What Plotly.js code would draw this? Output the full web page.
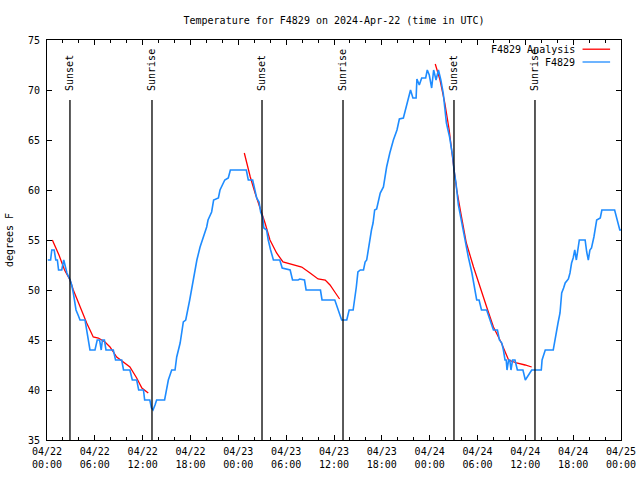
<!DOCTYPE html>
<html><head><meta charset="utf-8">
<script src="https://cdn.plot.ly/plotly-3.0.1.min.js"></script>
<style>html,body{margin:0;padding:0;background:#fff}#chart{width:640px;height:480px}</style>
</head><body><div id="chart"></div>
<script>
// hours since 2024-04-22 00:00 UTC
const obsHours = [0.1,0.45,0.6,0.9,1.1,1.3,1.45,1.85,2.1,2.25,2.5,2.9,3.1,3.3,3.5,3.64,3.9,4.14,4.77,5.0,5.18,5.39,6.02,6.3,6.6,6.8,6.95,7.2,7.4,8.32,8.6,9.37,9.6,10.4,10.7,11.25,11.5,12.1,12.25,12.9,13.1,13.3,13.55,13.75,14.75,14.95,15.22,15.64,16.06,16.27,16.7,17.1,17.4,17.9,18.36,18.8,19.2,19.6,20.03,20.2,20.65,20.9,21.5,21.7,22.1,22.3,22.74,23.0,25.0,25.25,25.8,26.1,26.3,26.6,26.8,27.05,27.2,27.55,27.75,28.05,28.4,29.2,29.5,30.5,30.8,31.5,31.7,32.3,32.5,34.3,34.5,36.1,36.5,36.96,37.6,37.9,38.4,38.6,38.8,39.0,39.3,39.7,39.9,40.1,40.4,40.7,40.9,41.1,41.35,41.8,42.2,42.6,43.0,43.45,43.9,44.2,44.7,45.0,45.3,45.6,45.9,46.3,46.4,46.7,47.0,47.5,47.7,47.95,48.25,48.5,48.8,49.1,49.4,49.7,49.9,50.1,50.5,50.9,51.05,51.3,51.6,52.0,52.4,52.85,53.3,53.7,53.9,54.2,54.5,55.15,55.5,55.7,56.0,56.5,56.75,57.05,57.25,57.45,57.6,57.7,57.9,58.05,58.2,58.4,58.7,59.0,59.7,60.0,60.8,62.0,62.1,62.5,63.5,63.7,64.1,64.35,64.56,64.8,65.0,65.4,65.6,65.8,66.0,66.2,66.4,66.77,67.5,67.7,67.9,68.1,68.3,68.6,68.95,69.4,69.6,71.2,71.45,71.85,72.0];
const obsTemps = [53,53,54,54,53,53,52,52,53,52.5,51.7,51,50.5,49.7,48.5,48,47.5,47,47,46,45.3,44,44,45,45,44,45,45,44,44,43,43,42,42,41,41,40,40,39,39,38.2,38,38.5,39,39,40,41,42,42,43.3,44.7,46.8,47,49,51,53,54.3,55.2,56.3,57,57.8,59,59.2,60,60.7,61,61.2,62,62,61,61,60,59.2,58.8,57.8,57.3,56.2,56,55,54,53,53,52.2,52,51,51,51.1,51,50,50,49,49,48,47,47,48,48,49,50.3,51.8,52,52,52.8,53,54.7,56,56.7,58,58.1,59.7,60.3,62.3,63.7,65,66,67.1,67.2,68.2,69.2,70,69.2,69.2,71.1,70.5,71.2,71.2,72,71.5,70.2,72,71,72,71,69.7,68.2,66.7,65.3,63.3,62,60.7,58.5,56.7,55.3,53.3,51.7,50,49,49,48,48,47,46.7,46,46,45,44.7,44,43,43,42,43,43,42,43,43,42,42,41,42,42,43,44,44,45,46.7,47.7,49.7,50.2,50.7,51.1,51.7,52.7,53.2,54,53,55,55,53.8,53,54,54.2,55.3,57,57.2,58,58,57.3,56,56];

const anaHours = [0.67,1.5,2.2,2.89,3.3,4.14,4.98,5.8,6.44,7.28,7.9,8.74,9.6,10.4,11.25,11.9,12.7,null,
  24.75,25.5,26.1,26.7,27.35,27.97,28.8,29.6,30.9,31.95,33.0,34.0,34.9,35.5,36.1,36.7,null,
  48.7,49.3,49.9,50.45,50.95,51.4,52.0,52.6,53.5,54.3,55.15,56.0,57.0,57.9,58.9,59.97,60.8];
const anaTemps = [55,53.5,52,51,50,48.3,46.7,45.3,45.2,44.8,44.3,43.3,42.8,42.3,41.2,40.2,39.7,null,
  63.7,61.3,59.7,58.3,56.7,55,53.7,52.8,52.5,52.3,51.7,51.1,51,50.5,49.8,49.1,null,
  72.6,71,68.7,66,62.7,60,57.3,54.7,52.3,50.3,48.3,46.3,44.7,43,42.7,42.5,42.3];

const eventHours = [2.88,13.17,26.97,37.13,51.05,61.21];
const eventLabels = ['Sunset','Sunrise','Sunset','Sunrise','Sunset','Sunrise'];

const tickHours = [0,6,12,18,24,30,36,42,48,54,60,66,72];
const tickLabels = ['04/22<br>00:00','04/22<br>06:00','04/22<br>12:00','04/22<br>18:00',
  '04/23<br>00:00','04/23<br>06:00','04/23<br>12:00','04/23<br>18:00',
  '04/24<br>00:00','04/24<br>06:00','04/24<br>12:00','04/24<br>18:00','04/25<br>00:00'];
const yTicks = [35,40,45,50,55,60,65,70,75];

const seriesNames = ['F4829 Analysis','F4829'];
const seriesColors = ['#ff0000','#1e8cff'];

const FONT = {family:'DejaVu Sans Mono, Liberation Mono, monospace', size:10, color:'#000'};

const traces = [
  {x:anaHours, y:anaTemps, name:seriesNames[0], mode:'lines', connectgaps:false,
   line:{color:seriesColors[0], width:1.3}, showlegend:false},
  {x:obsHours, y:obsTemps, name:seriesNames[1], mode:'lines',
   line:{color:seriesColors[1], width:1.6}, showlegend:false}
];

const shapes = eventHours.map(h => ({type:'line', xref:'x', yref:'paper', x0:h, x1:h, y0:0, y1:0.85,
  line:{color:'#000', width:1.3}, layer:'above'}));
const annotations = eventHours.map((h,i) => ({x:h, xref:'x', y:0.8675, yref:'paper', text:eventLabels[i],
  textangle:-90, showarrow:false, xanchor:'center', yanchor:'bottom', font:FONT}));

// custom legend (text left of sample, like the original)
const legY = [0.977, 0.945];
seriesNames.forEach((n,i) => {
  annotations.push({x:0.924, xref:'paper', y:legY[i], yref:'paper', text:n, showarrow:false,
    xanchor:'right', yanchor:'middle', font:FONT});
  shapes.push({type:'line', xref:'paper', yref:'paper', x0:0.933, x1:0.981, y0:legY[i], y1:legY[i],
    line:{color:seriesColors[i], width:1.3}});
});

const layout = {
  width:640, height:480,
  margin:{l:47, r:19, t:40, b:40},
  paper_bgcolor:'#fff', plot_bgcolor:'#fff',
  font:FONT,
  title:{text:'Temperature for F4829 on 2024-Apr-22 (time in UTC)', font:FONT,
    xref:'paper', x:0.5, xanchor:'center', yref:'container', y:0.958, yanchor:'middle'},
  xaxis:{range:[0,72], tickmode:'array', tickvals:tickHours, ticktext:tickLabels,
    ticks:'inside', ticklen:5, tickcolor:'#000', tickwidth:1,
    minor:{tickmode:'linear', tick0:0, dtick:2, ticks:'inside', ticklen:3, tickcolor:'#000', tickwidth:1},
    showline:true, linecolor:'#000', linewidth:1, mirror:'ticks', showgrid:false, zeroline:false,
    tickfont:FONT, ticklabelstandoff:2},
  yaxis:{range:[35,75], tickmode:'array', tickvals:yTicks,
    ticks:'inside', ticklen:5, tickcolor:'#000', tickwidth:1,
    showline:true, linecolor:'#000', linewidth:1, mirror:'ticks', showgrid:false, zeroline:false,
    tickfont:FONT, ticklabelstandoff:4,
    title:{text:'degrees F', font:FONT, standoff:12}},
  shapes:shapes,
  annotations:annotations,
  showlegend:false
};

Plotly.newPlot('chart', traces, layout, {staticPlot:true, displayModeBar:false});
</script>
</body></html>
